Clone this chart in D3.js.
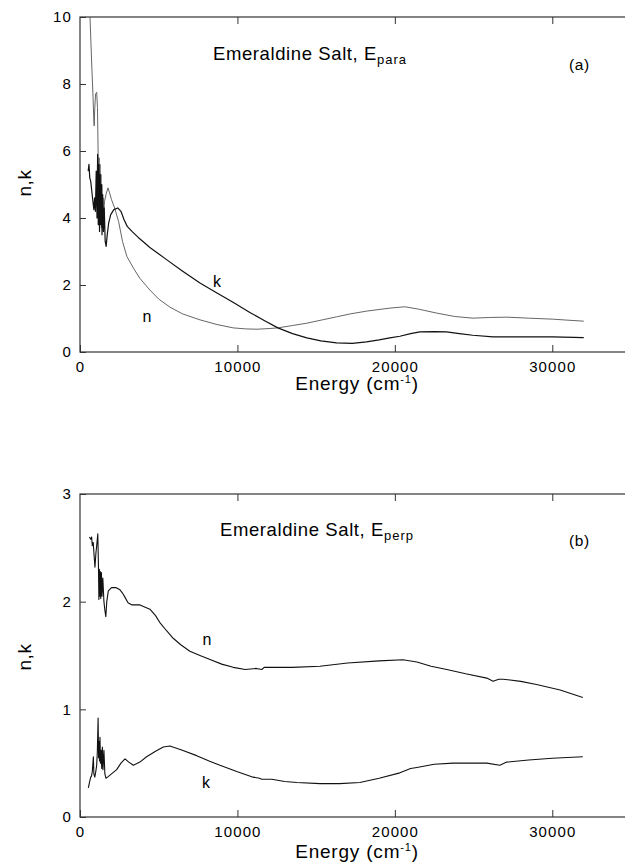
<!DOCTYPE html>
<html>
<head>
<meta charset="utf-8">
<script src="https://cdn.jsdelivr.net/npm/d3@7"></script>
<style>
  body { margin: 0; background: #fff; }
  svg { display: block; font-family: "Liberation Sans", Arial, sans-serif; }
</style>
</head>
<body>
<svg id="chart" width="625" height="867"></svg>
<script>
// energy (cm-1), value
var paraN = [[600,10.5],[680,9.4],[760,8.4],[830,7.6],[870,7.0],[900,6.75],[940,7.3],[990,7.7],[1060,7.75],[1110,7.3],
  [1150,6.0],[1180,4.2],[1210,5.8],[1240,4.0],[1270,5.6],[1300,3.9],[1330,5.3],[1360,3.7],[1390,5.0],[1420,3.9],
  [1460,4.6],[1500,4.1],[1560,4.5],[1650,4.7],[1780,4.9],[1880,4.75],[2000,4.55],[2200,4.3],[2450,3.9],[2700,3.3],
  [2980,2.85],[3400,2.5],[3800,2.2],[4440,1.85],[5000,1.58],[5710,1.34],[6500,1.14],[7620,0.96],[8700,0.82],[9730,0.72],
  [10500,0.69],[11240,0.68],[12000,0.7],[12570,0.72],[13500,0.79],[14410,0.86],[15400,0.96],[16300,1.05],[17200,1.14],
  [18200,1.22],[19680,1.31],[20630,1.35],[21500,1.28],[22670,1.16],[23800,1.06],[24950,1.01],[26000,1.03],[27100,1.04],
  [28500,1.01],[30030,0.98],[31000,0.95],[32000,0.92]];

var paraK = [[520,5.4],[570,5.6],[620,5.2],[680,5.1],[750,4.8],[820,4.5],[880,4.25],[930,4.6],[980,4.2],[1030,5.4],
  [1080,4.0],[1120,5.9],[1160,3.8],[1200,5.6],[1240,3.6],[1280,5.3],[1320,3.8],[1360,5.0],[1400,3.5],[1440,4.7],
  [1490,3.6],[1540,4.3],[1600,3.3],[1660,3.15],[1720,3.45],[1820,3.85],[1950,4.1],[2150,4.25],[2400,4.3],[2600,4.2],
  [2800,3.95],[3000,3.75],[3300,3.6],[3700,3.42],[4000,3.3],[4440,3.12],[5520,2.75],[6500,2.42],[7620,2.06],[8700,1.76],
  [9800,1.46],[10790,1.18],[11700,0.94],[12570,0.72],[13500,0.55],[14410,0.42],[15300,0.33],[16300,0.27],[17300,0.26],
  [18200,0.3],[19000,0.36],[19680,0.42],[20320,0.47],[21000,0.55],[21590,0.6],[22500,0.61],[23280,0.6],[24100,0.55],
  [24950,0.5],[26240,0.45],[28000,0.45],[30030,0.45],[32000,0.43]];

var perpN = [[600,2.6],[680,2.58],[740,2.6],[780,2.52],[840,2.55],[900,2.42],[950,2.32],[1010,2.45],[1080,2.55],[1130,2.63],
  [1170,2.35],[1200,2.02],[1230,2.3],[1260,2.05],[1290,2.28],[1320,2.03],[1360,2.27],[1400,2.05],[1450,2.22],[1520,2.0],
  [1580,1.92],[1640,1.86],[1700,2.0],[1800,2.1],[2000,2.13],[2300,2.13],[2540,2.11],[2700,2.08],[2860,2.04],[3050,1.99],
  [3300,1.97],[3810,1.97],[4440,1.93],[4800,1.87],[5100,1.8],[5500,1.73],[5920,1.66],[6400,1.6],[6980,1.54],[7620,1.5],
  [8300,1.46],[9000,1.42],[9730,1.39],[10500,1.37],[11200,1.38],[11550,1.37],[11700,1.39],[12500,1.39],[13500,1.39],
  [15240,1.4],[17000,1.43],[19000,1.45],[20510,1.46],[21400,1.44],[22300,1.4],[23300,1.37],[24500,1.33],[25840,1.29],
  [26240,1.26],[26600,1.28],[26880,1.28],[28000,1.26],[29000,1.23],[30500,1.18],[31940,1.11]];

var perpK = [[530,0.27],[600,0.32],[680,0.37],[730,0.38],[780,0.42],[850,0.56],[880,0.4],[940,0.37],[1000,0.42],[1060,0.48],
  [1100,0.6],[1150,0.92],[1180,0.55],[1210,0.7],[1240,0.52],[1270,0.74],[1300,0.5],[1340,0.62],[1380,0.45],[1420,0.65],
  [1460,0.44],[1520,0.62],[1580,0.4],[1650,0.36],[1750,0.37],[2000,0.4],[2330,0.44],[2600,0.5],[2860,0.54],[3100,0.51],
  [3390,0.48],[3800,0.51],[4230,0.56],[4800,0.61],[5290,0.65],[5710,0.66],[6500,0.62],[7410,0.57],[8200,0.52],[8890,0.48],
  [10000,0.42],[11000,0.37],[11400,0.36],[11550,0.35],[12190,0.35],[13000,0.33],[13780,0.32],[15240,0.31],[16500,0.31],
  [17780,0.32],[19000,0.36],[20320,0.41],[21000,0.45],[21400,0.46],[22500,0.49],[23700,0.5],[25840,0.5],[26670,0.48],
  [27100,0.51],[28500,0.53],[30000,0.545],[31940,0.56]];

var xMajor = [0, 10000, 20000, 30000];
var xMinor = [5000, 15000, 25000];
var paraMajor = [0, 2, 4, 6, 8, 10];
var perpMajor = [0, 1, 2, 3];

var svg = d3.select("#chart");

var x = d3.scaleLinear().domain([0, 35000]).range([80, 631]);

function drawPanel(p) {
    var y = d3.scaleLinear().domain([0, p.ymax]).range([p.bottom, p.top]);
    var g = svg.append("g");

    g.append("clipPath").attr("id", p.id + "-clip")
        .append("rect")
        .attr("x", 80).attr("y", p.top)
        .attr("width", 551).attr("height", p.bottom - p.top);

    // frame
    g.append("rect")
        .attr("x", 80).attr("y", p.top)
        .attr("width", 551).attr("height", p.bottom - p.top)
        .attr("fill", "none")
        .attr("stroke", "#333")
        .attr("stroke-width", 1.2);

    // x ticks, inward, bottom + top
    var xb = g.append("g").attr("transform", "translate(0," + p.bottom + ")");
    xb.call(d3.axisBottom(x).tickValues(xMinor).tickSize(-4).tickFormat(""));
    xb.call(d3.axisBottom(x).tickValues(xMajor).tickSize(-7).tickPadding(9).tickFormat(d3.format("d")));
    var xt = g.append("g").attr("transform", "translate(0," + p.top + ")");
    xt.call(d3.axisTop(x).tickValues(xMinor).tickSize(-4).tickFormat(""));
    xt.call(d3.axisTop(x).tickValues(xMajor.slice(1)).tickSize(-7).tickFormat(""));

    var yl = g.append("g").attr("transform", "translate(80,0)");
    yl.call(d3.axisLeft(y).tickValues(p.minor).tickSize(-4).tickFormat(""));
    yl.call(d3.axisLeft(y).tickValues(p.major).tickSize(-6).tickPadding(8).tickFormat(d3.format("d")));

    g.selectAll(".domain").remove();
    g.selectAll(".tick line").attr("stroke", "#333");
    g.selectAll(".tick text")
        .attr("fill", "#000")
        .style("font-size", "15px")
        .style("letter-spacing", "1.1px")
        .style("font-family", "'Liberation Sans', Arial, sans-serif");

    var line = d3.line()
        .x(function(d) { return x(d[0]); })
        .y(function(d) { return y(d[1]); });

    var curves = g.append("g").attr("clip-path", "url(#" + p.id + "-clip)");
    p.series.forEach(function(s) {
        curves.append("path")
            .datum(s.data)
            .attr("d", line)
            .attr("fill", "none")
            .attr("stroke", s.color)
            .attr("stroke-width", s.width)
            .attr("stroke-linejoin", "round");
    });

    p.series.forEach(function(s) {
        g.append("text")
            .attr("x", s.lx).attr("y", s.ly)
            .attr("text-anchor", "middle")
            .attr("fill", "#000")
            .style("font-size", "16px")
            .text(s.name);
    });

    // title with subscript
    var t = g.append("text")
        .attr("x", p.titleX).attr("y", p.titleY)
        .attr("fill", "#000")
        .style("font-size", "18.5px")
        .style("letter-spacing", "0.6px");
    t.append("tspan").text("Emeraldine Salt, E");
    t.append("tspan")
        .attr("dy", 4)
        .style("font-size", "13px")
        .style("letter-spacing", "1px")
        .text(p.sub);

    g.append("text")
        .attr("x", 569).attr("y", p.tagY)
        .attr("fill", "#000")
        .style("font-size", "15.5px")
        .style("letter-spacing", "0.6px")
        .text(p.tag);

    // axis titles
    var xl = g.append("text")
        .attr("x", 357).attr("y", p.xLabelY)
        .attr("text-anchor", "middle")
        .attr("fill", "#000")
        .style("font-size", "19px")
        .style("letter-spacing", "0.8px");
    xl.append("tspan").text("Energy (cm");
    xl.append("tspan").attr("dy", -7).style("font-size", "11px").text("-1");
    xl.append("tspan").attr("dy", 7).text(")");

    g.append("text")
        .attr("transform", "translate(31," + p.yLabelY + ") rotate(-90)")
        .attr("text-anchor", "middle")
        .attr("fill", "#000")
        .style("font-size", "19px")
        .style("letter-spacing", "0.6px")
        .text("n,k");
}

drawPanel({
    id: "para", top: 17, bottom: 352, ymax: 10,
    major: paraMajor, minor: d3.range(1, 10, 2),
    titleX: 213, titleY: 60, sub: "para", tag: "(a)", tagY: 70,
    xLabelY: 390, yLabelY: 183,
    series: [
        { name: "n", data: paraN, color: "#555", width: 0.9, lx: 147, ly: 322 },
        { name: "k", data: paraK, color: "#111", width: 1.2, lx: 217, ly: 287 }
    ]
});

drawPanel({
    id: "perp", top: 494, bottom: 817, ymax: 3,
    major: perpMajor, minor: d3.range(0.2, 3, 0.2).filter(function(v) { return Math.abs(v - Math.round(v)) > 0.01; }),
    titleX: 220, titleY: 536, sub: "perp", tag: "(b)", tagY: 546,
    xLabelY: 858, yLabelY: 657,
    series: [
        { name: "n", data: perpN, color: "#111", width: 1.1, lx: 207, ly: 645 },
        { name: "k", data: perpK, color: "#111", width: 1.1, lx: 206, ly: 788 }
    ]
});
</script>
</body>
</html>
